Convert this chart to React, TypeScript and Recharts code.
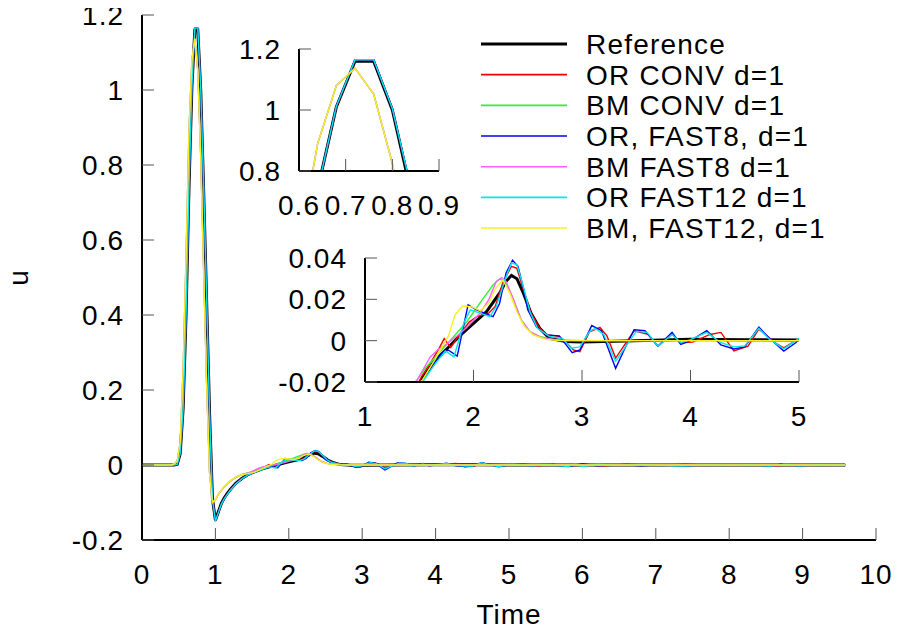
import { LineChart, Line, XAxis, YAxis } from 'recharts';

const FONT = '"Liberation Sans", Arial, Helvetica, sans-serif';

// [time, u] samples
const reference = [
  [0, 0], [0.44, 0], [0.48, 0.002], [0.52, 0.03], [0.56, 0.15], [0.6, 0.4], [0.64, 0.74], [0.68, 1.01],
  [0.72, 1.16], [0.76, 1.16], [0.8, 1.0], [0.84, 0.73], [0.88, 0.44], [0.92, 0.14], [0.96, -0.09],
  [1.0, -0.147], [1.04, -0.125], [1.08, -0.103], [1.12, -0.088], [1.16, -0.076], [1.2, -0.066],
  [1.28, -0.048], [1.36, -0.036], [1.44, -0.026], [1.52, -0.019], [1.64, -0.01], [1.76, -0.0037],
  [1.88, 0.0027], [2.0, 0.0084], [2.12, 0.014], [2.24, 0.023], [2.3, 0.0287], [2.35, 0.0316],
  [2.4, 0.03], [2.46, 0.023], [2.53, 0.0133], [2.61, 0.006], [2.7, 0.0011], [2.85, -0.0004],
  [3.0, -0.0007], [3.4, -0.0002], [4.0, 0.0007], [4.5, 0.0005], [5.0, 0.0003], [6.0, 0], [9.58, 0],
];

const orConv = [
  [0, 0], [0.44, 0], [0.48, 0.002], [0.52, 0.03], [0.56, 0.15], [0.6, 0.4], [0.64, 0.74], [0.68, 1.01],
  [0.72, 1.165], [0.76, 1.165], [0.8, 1.005], [0.84, 0.74], [0.88, 0.45], [0.92, 0.14], [0.96, -0.09],
  [1.0, -0.148], [1.04, -0.126], [1.08, -0.104], [1.12, -0.089], [1.2, -0.067], [1.28, -0.049],
  [1.36, -0.036], [1.44, -0.026], [1.52, -0.0175], [1.6, -0.011], [1.68, -0.004], [1.73, 0.001],
  [1.79, -0.0033], [1.88, 0.0036], [1.96, 0.009], [2.03, 0.0116], [2.14, 0.0133], [2.2, 0.0165],
  [2.27, 0.028], [2.35, 0.036], [2.4, 0.035], [2.46, 0.0246], [2.53, 0.0133], [2.61, 0.006],
  [2.68, 0.0028], [2.79, 0.002], [2.85, -0.0005], [2.92, -0.0045], [2.98, -0.0053], [3.07, 0.0043],
  [3.165, 0.0064], [3.23, 0.0023], [3.31, -0.0084], [3.48, 0.0048], [3.61, 0.0031], [3.7, -0.0027],
  [3.83, 0.0031], [3.91, -0.001], [4.02, -0.0007], [4.18, 0.003], [4.28, 0.004], [4.4, -0.005],
  [4.53, -0.0027], [4.63, 0.0056], [4.78, -0.001], [4.86, -0.0035], [4.97, 0], [5.2, 0.003],
  [5.4, -0.002], [5.6, 0.002], [5.8, -0.003], [6.0, 0.003], [6.3, -0.002], [6.6, 0.002], [7.0, -0.001],
  [7.4, 0.002], [7.8, -0.001], [8.2, 0.001], [8.6, -0.002], [9.0, 0.001], [9.3, -0.001], [9.58, 0],
];

const bmConv = [
  [0, 0], [0.4, 0], [0.44, 0.003], [0.48, 0.01], [0.52, 0.06], [0.56, 0.25], [0.6, 0.55], [0.64, 0.89],
  [0.68, 1.08], [0.72, 1.137], [0.76, 1.052], [0.8, 0.825], [0.84, 0.52], [0.88, 0.22], [0.92, -0.02],
  [0.96, -0.1], [1.0, -0.092], [1.04, -0.078], [1.08, -0.067], [1.12, -0.058], [1.2, -0.043],
  [1.28, -0.032], [1.36, -0.025], [1.44, -0.021], [1.48, -0.019], [1.56, -0.013], [1.63, -0.009],
  [1.79, 0.0003], [1.94, 0.0093], [2.08, 0.0197], [2.18, 0.027], [2.24, 0.0298], [2.29, 0.029],
  [2.37, 0.0197], [2.44, 0.01], [2.52, 0.0044], [2.61, 0.002], [2.73, 0.0006], [2.85, 0], [9.58, 0],
];

const orFast8 = [
  [0, 0], [0.44, 0], [0.48, 0.002], [0.52, 0.03], [0.56, 0.15], [0.6, 0.4], [0.64, 0.74], [0.68, 1.012],
  [0.72, 1.165], [0.76, 1.165], [0.8, 1.005], [0.84, 0.745], [0.88, 0.45], [0.92, 0.14], [0.96, -0.09],
  [1.0, -0.15], [1.04, -0.127], [1.08, -0.105], [1.12, -0.09], [1.2, -0.068], [1.28, -0.05],
  [1.36, -0.037], [1.44, -0.027], [1.54, -0.019], [1.62, -0.012], [1.7, -0.0062], [1.77, -0.0046],
  [1.85, -0.0075], [1.95, 0.0173], [2.03, 0.0149], [2.18, 0.0116], [2.24, 0.018], [2.3, 0.0327],
  [2.36, 0.0389], [2.41, 0.036], [2.46, 0.0254], [2.5, 0.0149], [2.58, 0.0067], [2.67, 0.0028],
  [2.79, 0.0023], [2.91, -0.0058], [2.98, -0.0045], [3.09, 0.0073], [3.18, 0.0048], [3.31, -0.0134],
  [3.39, -0.0043], [3.48, 0.0053], [3.58, 0.0048], [3.7, -0.0027], [3.83, 0.004], [3.91, -0.0018],
  [4.0, 0], [4.15, 0.0048], [4.28, -0.002], [4.4, -0.004], [4.5, -0.003], [4.63, 0.0066], [4.72, 0.0015],
  [4.86, -0.005], [4.97, -0.001], [5.05, 0.003], [5.3, -0.002], [5.5, 0.002], [5.81, -0.004], [6.0, 0.003],
  [6.2, -0.002], [6.5, 0.001], [6.8, -0.002], [7.1, 0.001], [7.37, -0.003], [7.7, 0.001], [8.0, -0.001],
  [8.3, 0.001], [8.55, -0.003], [8.7, 0.002], [8.95, -0.002], [9.2, 0.001], [9.58, 0],
];

const bmFast8 = [
  [0, 0], [0.4, 0], [0.44, 0.003], [0.48, 0.01], [0.52, 0.06], [0.56, 0.25], [0.6, 0.55], [0.64, 0.89],
  [0.68, 1.08], [0.72, 1.137], [0.76, 1.052], [0.8, 0.825], [0.84, 0.52], [0.88, 0.22], [0.92, -0.02],
  [0.96, -0.1], [1.0, -0.093], [1.04, -0.079], [1.08, -0.068], [1.12, -0.059], [1.2, -0.044],
  [1.28, -0.033], [1.36, -0.026], [1.44, -0.022], [1.47, -0.02], [1.6, -0.008], [1.68, -0.004],
  [1.73, -0.0025], [1.85, 0.0024], [1.94, 0.0065], [2.06, 0.0133], [2.14, 0.0197], [2.21, 0.0287],
  [2.26, 0.0305], [2.3, 0.0287], [2.37, 0.0197], [2.44, 0.01], [2.52, 0.0044], [2.64, 0.0011],
  [2.8, 0.0003], [3.0, 0], [9.58, 0],
];

const orFast12 = [
  [0, 0], [0.44, 0], [0.48, 0.002], [0.52, 0.03], [0.56, 0.15], [0.6, 0.4], [0.64, 0.74], [0.68, 1.012],
  [0.72, 1.165], [0.76, 1.165], [0.8, 1.005], [0.84, 0.745], [0.88, 0.45], [0.92, 0.14], [0.96, -0.09],
  [1.0, -0.15], [1.04, -0.127], [1.08, -0.105], [1.12, -0.09], [1.2, -0.068], [1.28, -0.05],
  [1.36, -0.037], [1.44, -0.027], [1.55, -0.0185], [1.65, -0.011], [1.74, -0.005], [1.82, -0.0078],
  [1.91, 0.0084], [1.97, 0.0149], [2.06, 0.0133], [2.15, 0.0116], [2.21, 0.0165], [2.29, 0.0295],
  [2.35, 0.0376], [2.4, 0.0368], [2.46, 0.026], [2.52, 0.014], [2.59, 0.006], [2.7, 0.002],
  [2.82, 0.0011], [2.9, -0.0037], [2.98, -0.003], [3.07, 0.0044], [3.12, 0.006], [3.2, 0.003],
  [3.31, -0.01], [3.4, -0.003], [3.5, 0.0045], [3.6, 0.004], [3.7, -0.0027], [3.83, 0.003],
  [3.91, -0.001], [4.0, 0.0005], [4.15, 0.004], [4.28, -0.001], [4.4, -0.003], [4.5, -0.0025],
  [4.63, 0.006], [4.72, 0.001], [4.86, -0.004], [4.97, 0], [5.05, 0.003], [5.3, -0.002], [5.5, 0.002],
  [5.81, -0.004], [5.9, 0.003], [6.0, -0.004], [6.2, 0.002], [6.5, -0.001], [6.8, 0.001], [7.1, -0.001],
  [7.37, -0.003], [7.7, 0.001], [8.0, -0.001], [8.3, 0.001], [8.55, -0.003], [8.75, 0.002],
  [8.95, -0.002], [9.2, 0.001], [9.58, 0],
];

const bmFast12 = [
  [0, 0], [0.4, 0], [0.44, 0.003], [0.48, 0.01], [0.52, 0.06], [0.56, 0.25], [0.6, 0.55], [0.64, 0.89],
  [0.68, 1.08], [0.72, 1.137], [0.76, 1.052], [0.8, 0.825], [0.84, 0.52], [0.88, 0.22], [0.92, -0.02],
  [0.96, -0.1], [1.0, -0.092], [1.04, -0.078], [1.08, -0.067], [1.12, -0.058], [1.2, -0.043],
  [1.28, -0.032], [1.36, -0.026], [1.44, -0.023], [1.53, -0.019], [1.66, -0.0078], [1.77, 0.0024],
  [1.83, 0.0125], [1.9, 0.0168], [1.98, 0.0165], [2.06, 0.0145], [2.14, 0.018], [2.2, 0.025],
  [2.27, 0.0295], [2.335, 0.023], [2.4, 0.014], [2.47, 0.0068], [2.55, 0.0028], [2.67, 0.0006],
  [2.8, 0], [9.58, 0],
];

const mainXTicks = [0, 1, 2, 3, 4, 5, 6, 7, 8, 9, 10];
const mainYTicks = [-0.2, 0, 0.2, 0.4, 0.6, 0.8, 1, 1.2];
const peakXTicks = [0.6, 0.7, 0.8, 0.9];
const peakYTicks = [0.8, 1, 1.2];
const tailXTicks = [1, 2, 3, 4, 5];
const tailYTicks = [-0.02, 0, 0.02, 0.04];

const toRows = (pts: number[][]) => pts.map(([t, u]) => ({ t, u }));

const series = [
  { name: 'Reference', data: toRows(reference), color: '#000000', width: 3 },
  { name: 'OR CONV d=1', data: toRows(orConv), color: '#f00000', width: 1.4 },
  { name: 'BM CONV d=1', data: toRows(bmConv), color: '#30f030', width: 1.4 },
  { name: 'OR, FAST8, d=1', data: toRows(orFast8), color: '#0000f0', width: 1.4 },
  { name: 'BM FAST8 d=1', data: toRows(bmFast8), color: '#ff60ff', width: 1.4 },
  { name: 'OR FAST12 d=1', data: toRows(orFast12), color: '#00e8e8', width: 1.4 },
  { name: 'BM, FAST12, d=1', data: toRows(bmFast12), color: '#f8f020', width: 1.4 },
];

const tickStyle = { fill: '#000', fontSize: 28, fontFamily: FONT, letterSpacing: 1 };
const blank = () => '';

function Frame({ xd, yd, xt, yt, xh, yw }: { xd: number[]; yd: number[]; xt: number[]; yt: number[]; xh: number; yw: number }) {
  return [
    <XAxis key="xb" xAxisId="b" dataKey="t" type="number" domain={xd} ticks={xt} allowDataOverflow
      orientation="bottom" height={xh} stroke="#000" axisLine={{ strokeWidth: 2 }}
      tickLine={{ stroke: '#555' }} tickSize={-12} tickMargin={36} tick={tickStyle} interval={0} />,
    <XAxis key="xt" xAxisId="t" type="number" domain={xd} ticks={xt} allowDataOverflow
      orientation="top" height={0} stroke="#000" axisLine={{ strokeWidth: 2 }}
      tickLine={{ stroke: '#555' }} tickSize={-12} tickFormatter={blank} interval={0} />,
    <YAxis key="yl" yAxisId="l" type="number" domain={yd} ticks={yt} allowDataOverflow
      orientation="left" width={yw} stroke="#000" axisLine={{ strokeWidth: 2 }}
      tickLine={{ stroke: '#555' }} tickSize={-12} tickMargin={30} tick={tickStyle} interval={0} />,
    <YAxis key="yr" yAxisId="r" type="number" domain={yd} ticks={yt} allowDataOverflow
      orientation="right" width={0} stroke="#000" axisLine={{ strokeWidth: 2 }}
      tickLine={{ stroke: '#555' }} tickSize={-12} tickFormatter={blank} interval={0} />,
  ];
}

function Curves() {
  return series.map((s) => (
    <Line key={s.name} xAxisId="b" yAxisId="l" data={s.data} dataKey="u" type="linear"
      stroke={s.color} strokeWidth={s.width} dot={false} activeDot={false} isAnimationActive={false} />
  ));
}

function Key() {
  return (
    <svg width={420} height={225} style={{ position: 'absolute', left: 470, top: 25 }}>
      {series.map((s, i) => {
        const y = 19 + i * 30.67;
        return (
          <g key={s.name}>
            <line x1={11} x2={97} y1={y} y2={y} stroke={s.color} strokeWidth={s.width === 3 ? 3 : 1.6} />
            <text x={116} y={y + 10} fontSize={28} letterSpacing={1.2} fontFamily={FONT} fill="#000">{s.name}</text>
          </g>
        );
      })}
    </svg>
  );
}

export default function App() {
  // cancel the body margin so coordinates below are page pixels
  return (
    <div style={{ position: 'relative', width: 901, height: 634, margin: '-8px 0 0 -8px' }}>
      <LineChart width={901} height={634} margin={{ top: 15, right: 25, bottom: 0, left: 0 }}>
        {Frame({ xd: [0, 10], yd: [-0.2, 1.2], xt: mainXTicks, yt: mainYTicks, xh: 94, yw: 142 })}
        {Curves()}
      </LineChart>
      <svg width={901} height={634} style={{ position: 'absolute', left: 0, top: 0, pointerEvents: 'none' }}>
        <text x={509} y={624} textAnchor="middle" fontSize={28} letterSpacing={1} fontFamily={FONT}>Time</text>
        <text x={0} y={0} transform="translate(28,278) rotate(-90)" textAnchor="middle" fontSize={28} fontFamily={FONT}>u</text>
      </svg>
      <div style={{ position: 'absolute', left: 200, top: 30 }}>
        <LineChart width={272} height={194} margin={{ top: 19, right: 33, bottom: 0, left: 0 }}>
          {Frame({ xd: [0.6, 0.9], yd: [0.8, 1.2], xt: peakXTicks, yt: peakYTicks, xh: 53, yw: 99 })}
          {Curves()}
        </LineChart>
      </div>
      <div style={{ position: 'absolute', left: 255, top: 238 }}>
        <LineChart width={576} height={198} margin={{ top: 20, right: 32, bottom: 0, left: 0 }}>
          {Frame({ xd: [1, 5], yd: [-0.02, 0.04], xt: tailXTicks, yt: tailYTicks, xh: 54, yw: 110 })}
          {Curves()}
        </LineChart>
      </div>
      <Key />
    </div>
  );
}
